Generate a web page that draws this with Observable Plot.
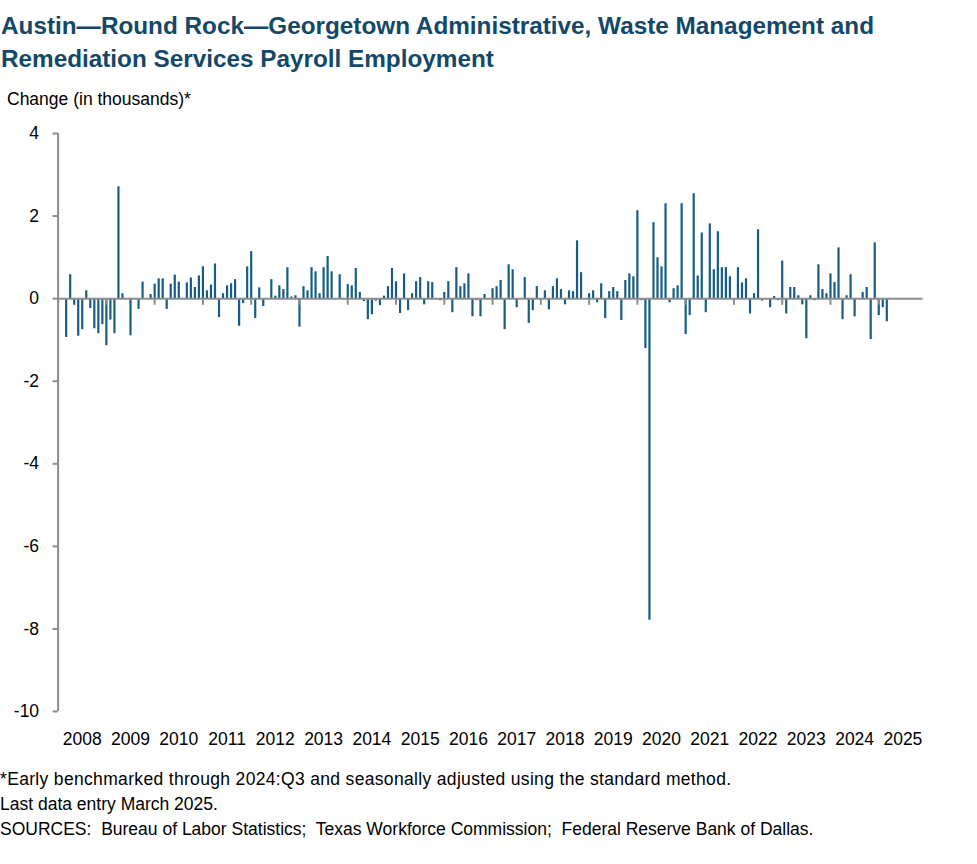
<!DOCTYPE html>
<html>
<head>
<meta charset="utf-8">
<script src="https://cdn.jsdelivr.net/npm/d3@7"></script>
<script src="https://cdn.jsdelivr.net/npm/@observablehq/plot@0.6"></script>
<style>
  body { margin: 0; background: #fff; font-family: "Liberation Sans", Arial, sans-serif; color: #000; }
  #title { padding: 9px 0 0 1px; font-weight: bold; font-size: 24.3px; line-height: 33px; color: #144868; white-space: nowrap; }
  #sub { margin-top: 12px; padding-left: 7px; font-size: 17.5px; line-height: 24px; }
  #chart svg { display: block; }
  #notes { margin-top: 16px; font-size: 17.5px; line-height: 25px; white-space: nowrap; }
  #notes .l1 { letter-spacing: 0.33px; }
</style>
</head>
<body>
<div id="title">Austin—Round Rock—Georgetown Administrative, Waste Management and<br>Remediation Services Payroll Employment</div>
<div id="sub">Change (in thousands)*</div>
<div id="chart"></div>
<div id="notes"><span class="l1">*Early benchmarked through 2024:Q3 and seasonally adjusted using the standard method.</span><br>Last data entry March 2025.<br>SOURCES:&nbsp; Bureau of Labor Statistics;&nbsp; Texas Workforce Commission;&nbsp; Federal Reserve Bank of Dallas.</div>
<script>
// Monthly change in payroll employment (thousands), Jan..Dec of each year
const v2008 = [0, 0, -0.94, 0.58, -0.16, -0.91, -0.75, 0.19, -0.24, -0.73, -0.85, -0.63];
const v2009 = [-1.14, -0.52, -0.85, 2.71, 0.12, 0, -0.90, 0, -0.26, 0.40, 0, 0.10];
const v2010 = [0.35, 0.48, 0.48, -0.26, 0.35, 0.57, 0.40, 0, 0.38, 0.50, 0.27, 0.55];
const v2011 = [0.77, 0.19, 0.33, 0.84, -0.46, 0.12, 0.31, 0.36, 0.46, -0.67, -0.12, 0.77];
const v2012 = [1.14, -0.48, 0.26, -0.19, 0, 0.46, 0.06, 0.31, 0.22, 0.75, 0.04, 0.07];
const v2013 = [-0.69, 0.29, 0.19, 0.75, 0.65, 0.12, 0.75, 1.02, 0.65, 0, 0.58, 0];
const v2014 = [0.34, 0.31, 0.73, 0.15, -0.07, -0.51, -0.39, -0.06, -0.17, 0.06, 0.29, 0.73];
const v2015 = [0.41, -0.36, 0.60, -0.29, 0.12, 0.41, 0.51, -0.15, 0.41, 0.39, 0, -0.05];
const v2016 = [0.15, 0.41, -0.34, 0.75, 0.29, 0.36, 0.60, -0.44, -0.05, -0.44, 0.10, 0];
const v2017 = [0.24, 0.29, 0.44, -0.75, 0.82, 0.70, -0.22, 0, 0.51, -0.60, -0.29, 0.29];
const v2018 = [0, 0.19, -0.27, 0.29, 0.48, 0.22, -0.15, 0.19, 0.17, 1.40, 0.63, 0];
const v2019 = [0.12, 0.19, -0.10, 0.36, -0.48, 0.17, 0.27, 0.17, -0.53, 0.44, 0.60, 0.53];
const v2020 = [2.13, -0.05, -1.21, -7.79, 1.84, 0.99, 0.77, 2.30, -0.10, 0.24, 0.31, 2.30];
const v2021 = [-0.87, -0.41, 2.54, 0.55, 1.59, -0.34, 1.81, 0.70, 1.62, 0.75, 0.75, 0.53];
const v2022 = [0, 0.75, 0.38, 0.48, -0.37, 0.12, 1.67, -0.06, 0, -0.22, 0.05, -0.05];
const v2023 = [0.91, -0.37, 0.27, 0.27, 0.07, -0.15, -0.97, 0.07, -0.05, 0.82, 0.22, 0.12];
const v2024 = [0.60, 0.39, 1.23, -0.51, 0.07, 0.58, -0.44, 0, 0.15, 0.27, -0.99, 1.35];
const v2025 = [-0.41, -0.22, -0.56];

const years = [2008, 2009, 2010, 2011, 2012, 2013, 2014, 2015, 2016, 2017, 2018, 2019, 2020, 2021, 2022, 2023, 2024, 2025];
const yTicks = [4, 2, 0, -2, -4, -6, -8, -10];

const series = [v2008, v2009, v2010, v2011, v2012, v2013, v2014, v2015, v2016, v2017, v2018, v2019, v2020, v2021, v2022, v2023, v2024, v2025];
const data = [];
series.forEach((arr, i) => arr.forEach((v, m) => data.push({t: years[i] + m / 12, v})));

const barColor = "#175d83";
const axisGray = "#8c8c8c";

const chart = Plot.plot({
  width: 977,
  height: 640,
  marginLeft: 57.6,
  marginRight: 54.5,
  marginTop: 22,
  marginBottom: 40,
  style: {fontFamily: "'Liberation Sans', Arial, sans-serif", fontSize: "17.5px", color: "#000", background: "#fff", overflow: "visible"},
  x: {type: "linear", domain: [years[0], years[years.length - 1] + 11 / 12]},
  y: {domain: [-10, 4]},
  marks: [
    Plot.ruleX(data, {x: "t", y1: 0, y2: "v", stroke: barColor, strokeWidth: 2.2}),
    Plot.ruleY([0], {stroke: axisGray, strokeWidth: 2}),
    Plot.ruleX(years, {x: d => d, y1: 0, y2: -0.16, stroke: axisGray, strokeWidth: 2}),
    Plot.ruleX([years[0]], {stroke: axisGray, strokeWidth: 2}),
    Plot.axisY({ticks: yTicks, tickSize: 5, tickPadding: 14, stroke: axisGray, fill: "#000", strokeWidth: 2, tickFormat: d => String(d), label: null}),
    Plot.axisX({ticks: years.map(y => y + 0.5), tickSize: 0, tickPadding: 21, tickFormat: d => String(Math.floor(d)), label: null, fill: "#000"})
  ]
});
document.getElementById("chart").appendChild(chart);
</script>
</body>
</html>
